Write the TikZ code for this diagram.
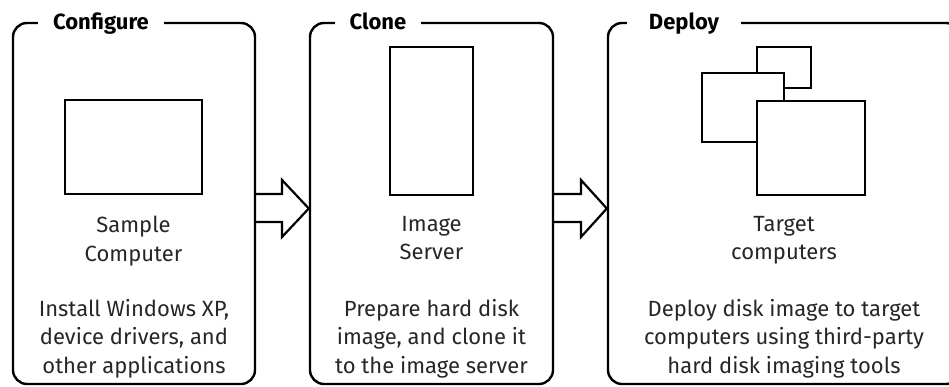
\documentclass[tikz,border=0pt]{standalone}
\usepackage{fontspec}
\setmainfont{Fira Sans}
\begin{document}
\begin{tikzpicture}[x=1pt,y=-1pt,
  panel/.style={draw, line width=2.4pt, rounded corners=14pt, inner sep=0pt},
  icon/.style={draw, fill=white, line width=2.4pt, inner sep=0pt},
  ttl/.style={fill=white, inner xsep=15pt, inner ysep=2pt, font=\fontsize{22}{26}\selectfont\bfseries, anchor=base},
  lbl/.style={align=center, inner sep=0pt, anchor=north, font=\fontsize{22}{28.5}\selectfont, text=black!85},
  bigarrow/.style={draw, line width=2.2pt, line join=miter}]
\useasboundingbox (0,0) rectangle (949,387);
\clip (0,0) rectangle (949,387);
% panels
\node[panel, minimum width=242pt, minimum height=361pt] (p1) at (134,203.5) {};
\node[panel, minimum width=243pt, minimum height=361pt] (p2) at (431.5,203.5) {};
\node[panel, minimum width=352pt, minimum height=361pt] (p3) at (784,203.5) {};
% titles
\node[ttl] (t1) at (101,29.5) {Configure};
\node[ttl] (t2) at (378,29.5) {Clone};
\node[ttl, inner xsep=22pt] (t3) at (684,29.5) {Deploy};
% icons
\node[icon, minimum width=137pt, minimum height=94pt] (sample) at (133.5,147) {};
\node[icon, minimum width=83pt, minimum height=148pt] (server) at (431.5,121) {};
\node[icon, minimum width=54pt, minimum height=41pt] (tc1) at (784,67.5) {};
\node[icon, minimum width=82pt, minimum height=69pt] (tc2) at (743,107.5) {};
\node[icon, minimum width=108pt, minimum height=94pt] (tc3) at (811,148) {};
% captions
\node[lbl] (c1) at (133.5,216) {Sample\\Computer};
\node[lbl] (c2) at (431.5,216) {Image\\Server};
\node[lbl] (c3) at (784,216) {Target\\computers};
% descriptions
\node[lbl] (d1) at (134,299) {Install Windows XP,\\device drivers, and\\other applications};
\node[lbl] (d2) at (431.5,299) {Prepare hard disk\\image, and clone it\\to the image server};
\node[lbl] (d3) at (784,299) {Deploy disk image to target\\computers using third-party\\hard disk imaging tools};
% arrows
\draw[bigarrow] (p1.east |- 0,194) -- (282,194) -- (282,180) -- (p2.west |- 0,208.5) -- (282,237) -- (282,222) -- (p1.east |- 0,222);
\draw[bigarrow] (p2.east |- 0,194) -- (581,194) -- (581,180) -- (p3.west |- 0,208.5) -- (581,237) -- (581,222) -- (p2.east |- 0,222);
\end{tikzpicture}
\end{document}
